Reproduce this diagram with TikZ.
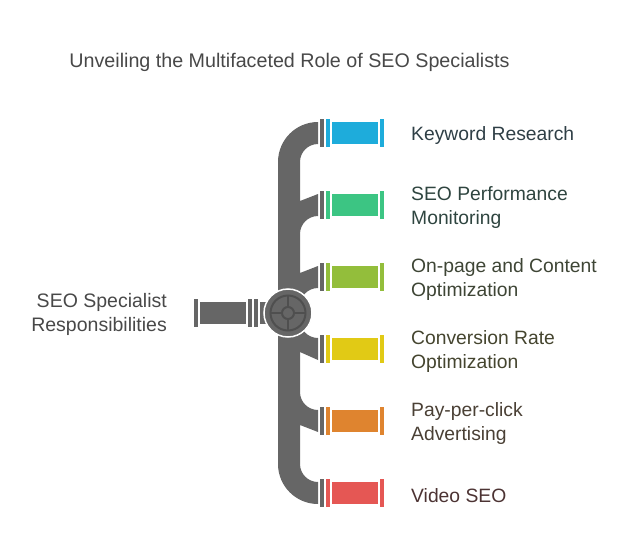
\documentclass[tikz,border=0pt]{standalone}
\usepackage{fontspec}
\setmainfont{Liberation Sans}
\usetikzlibrary{calc}
\definecolor{pipegray}{HTML}{666666}
\definecolor{ringgray}{HTML}{4F4F4F}
\definecolor{kwblue}{HTML}{1EACDB}
\definecolor{pmgreen}{HTML}{3CC583}
\definecolor{opolive}{HTML}{93BE3B}
\definecolor{cryellow}{HTML}{E1CA15}
\definecolor{pporange}{HTML}{DF842F}
\definecolor{vsred}{HTML}{E55754}
\definecolor{kwtext}{HTML}{2F3F46}
\definecolor{pmtext}{HTML}{2F4540}
\definecolor{optext}{HTML}{3E4535}
\definecolor{crtext}{HTML}{45452F}
\definecolor{pptext}{HTML}{4A4035}
\definecolor{vstext}{HTML}{4C3333}
\definecolor{titletext}{HTML}{484848}
\def\pipeend(#1)#2{%
	\fill[pipegray] (320, #1-14) rectangle (324, #1+14);
	\fill[#2] (326, #1-14) rectangle (330, #1+14);
	\fill[#2] (332, #1-11) rectangle (378, #1+11);
	\fill[#2] (380, #1-14) rectangle (384, #1+14);}
\tikzset{
	itemlabel/.style={anchor=west, align=left, inner sep=0pt, font=\fontsize{19.3}{24}\selectfont},
}
\begin{document}
\begin{tikzpicture}[x=1pt, y=-1pt]
		%%%%% START %%%%%
		\useasboundingbox (0, 0) rectangle (638, 557);
		
		\node[font=\fontsize{19.7}{24}\selectfont, text=titletext] (title) at (289.5, 62) {Unveiling the Multifaceted Role of SEO Specialists};
		
		% main pipe
		\fill[pipegray] (318, 122) arc[start angle=270, end angle=180, radius=40]
			-- (278, 464) arc[start angle=180, end angle=90, radius=40]
			-- (318, 482) arc[start angle=90, end angle=180, radius=18]
			-- (300, 425) -- (318, 432) -- (318, 410) arc[start angle=90, end angle=180, radius=18]
			-- (300, 352) -- (318, 360) -- (318, 338) arc[start angle=90, end angle=180, radius=18]
			-- (300, 306) arc[start angle=180, end angle=270, radius=18]
			-- (318, 266) -- (300, 273) -- (300, 234) arc[start angle=180, end angle=270, radius=18]
			-- (318, 194) -- (300, 201) -- (300, 162) arc[start angle=180, end angle=270, radius=18]
			-- cycle;
		
		% inlet pipe
		\fill[pipegray] (194, 299) rectangle (198, 327);
		\fill[pipegray] (200, 302) rectangle (246, 324);
		\fill[pipegray] (248, 299) rectangle (252, 327);
		\fill[pipegray] (254, 299) rectangle (258, 327);
		\fill[pipegray] (260, 302) rectangle (275, 324);
		
		% hub
		\node[circle, fill=pipegray, draw=white, line width=1.5pt, minimum size=48pt, inner sep=0pt] (hub) at (288, 313) {};
		\draw[ringgray, line width=2pt] (hub.center) circle (17.5);
		\draw[ringgray, line width=2pt] ($(hub.center)+(-17.5, 0)$) -- ($(hub.center)+(17.5, 0)$);
		\draw[ringgray, line width=2pt] ($(hub.center)+(0, -17.5)$) -- ($(hub.center)+(0, 17.5)$);
		\filldraw[fill=pipegray, draw=ringgray, line width=2pt] (hub.center) circle (6);
		
		% outlets
		\pipeend(133){kwblue}
		\pipeend(205){pmgreen}
		\pipeend(277){opolive}
		\pipeend(349){cryellow}
		\pipeend(421){pporange}
		\pipeend(493){vsred}
		
		\node[itemlabel, text=kwtext] (keyword) at (411, 135.5) {Keyword Research};
		\node[itemlabel, text=pmtext] (monitor) at (411, 207.5) {SEO Performance\\Monitoring};
		\node[itemlabel, text=optext] (onpage) at (411, 279.5) {On-page and Content\\Optimization};
		\node[itemlabel, text=crtext] (conversion) at (411, 351.5) {Conversion Rate\\Optimization};
		\node[itemlabel, text=pptext] (ppc) at (411, 423.5) {Pay-per-click\\Advertising};
		\node[itemlabel, text=vstext] (video) at (411, 495.5) {Video SEO};
		
		\node[anchor=east, align=right, inner sep=0pt, font=\fontsize{19.5}{24}\selectfont, text=titletext] (role) at (167, 314.5) {SEO Specialist\\Responsibilities};
		
		%%%%% END %%%%%
	\end{tikzpicture}
\end{document}
